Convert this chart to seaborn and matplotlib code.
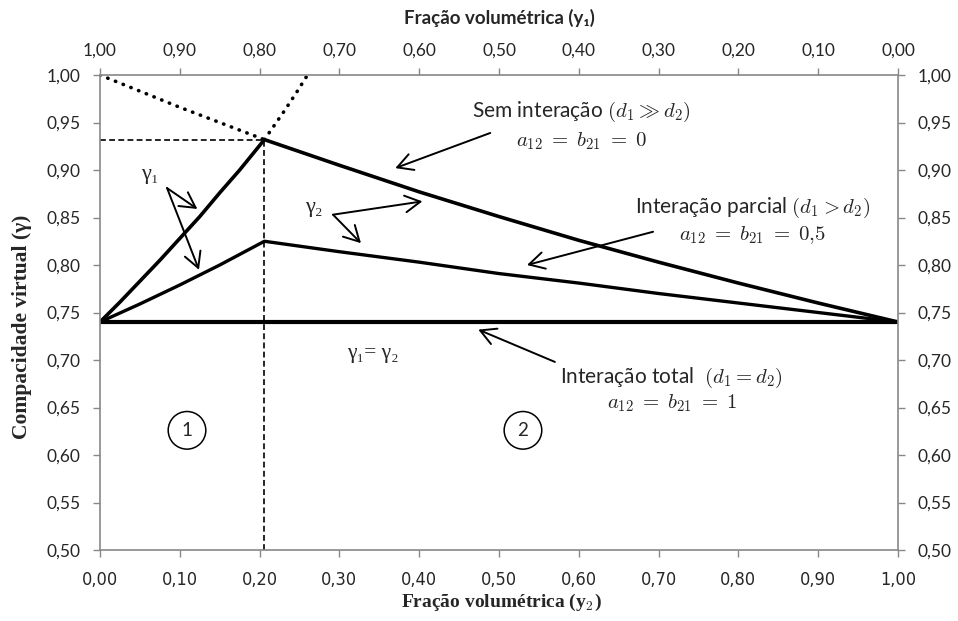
import matplotlib
matplotlib.use("Agg")
import matplotlib.pyplot as plt
import matplotlib.font_manager as fm
import seaborn as sns
import pandas as pd

# Fração volumétrica da classe fina (y2) e compacidade virtual (γ)
y2_sem = [0.00, 0.025, 0.05, 0.075, 0.10, 0.125, 0.15, 0.175, 0.206,
          0.30, 0.40, 0.50, 0.60, 0.70, 0.80, 0.90, 1.00]
gam_sem = [0.740, 0.761, 0.783, 0.805, 0.828, 0.851, 0.876, 0.900, 0.932,
           0.905, 0.877, 0.851, 0.826, 0.803, 0.781, 0.760, 0.740]

y2_parc = [0.00, 0.05, 0.10, 0.15, 0.206, 0.30, 0.40, 0.50, 0.60, 0.70, 0.80, 0.90, 1.00]
gam_parc = [0.740, 0.759, 0.779, 0.800, 0.825, 0.814, 0.803, 0.791, 0.781, 0.770, 0.760, 0.750, 0.740]

y2_total = [0.00, 1.00]
gam_total = [0.740, 0.740]

# prolongamentos (pontilhado) de γ2 e γ1 além do ponto de máximo
y2_ext_g2 = [0.00, 0.05, 0.10, 0.15, 0.206]
gam_ext_g2 = [1.000, 0.983, 0.966, 0.950, 0.932]
y2_ext_g1 = [0.206, 0.23, 0.245, 0.26]
gam_ext_g1 = [0.932, 0.961, 0.980, 1.000]

# ponto de máximo sem interação
y2_max = 0.206
gam_max = 0.932

ticks = [0.0, 0.1, 0.2, 0.3, 0.4, 0.5, 0.6, 0.7, 0.8, 0.9, 1.0]
yticks = [0.50, 0.55, 0.60, 0.65, 0.70, 0.75, 0.80, 0.85, 0.90, 0.95, 1.00]


def virgula(v):
    return f"{v:.2f}".replace(".", ",")


def _peso(w):
    if isinstance(w, str):
        return 700 if w in ("bold", "heavy", "black", "extra bold", "demibold") else 400
    return w


def fonte_estreita(negrito, serifada):
    """Procura uma fonte condensada instalada; devolve o caminho ou None."""
    for f in fm.fontManager.ttflist:
        nome = f.name
        cond = (str(f.stretch) in ("condensed", "semi-condensed", "extra-condensed")
                or "Narrow" in nome or "Condensed" in nome)
        if not cond or f.style != "normal" or "Mono" in nome:
            continue
        if (_peso(f.weight) >= 600) != negrito:
            continue
        if ("Serif" in nome) != serifada:
            continue
        return f.fname
    return None


sns.set_style("white")
plt.rcParams["font.family"] = ["Lato", "DejaVu Sans"]
plt.rcParams["mathtext.fontset"] = "cm"

GRAY = "#888888"
serif = ["Liberation Serif", "DejaVu Serif"]

arq_ticks = fonte_estreita(False, False)
if arq_ticks:
    fp_xticks = fm.FontProperties(fname=arq_ticks, size=13)
else:
    fp_xticks = fm.FontProperties(family=["Lato", "DejaVu Sans"], size=12.5)

fig = plt.figure(figsize=(9.58, 6.21), dpi=100)
ax = fig.add_axes([0.1044, 0.1143, 0.8330, 0.7649])

df_sem = pd.DataFrame({"y2": y2_sem, "gamma": gam_sem})
df_parc = pd.DataFrame({"y2": y2_parc, "gamma": gam_parc})
df_total = pd.DataFrame({"y2": y2_total, "gamma": gam_total})

sns.lineplot(data=df_sem, x="y2", y="gamma", ax=ax, color="black", lw=2.6,
             estimator=None)
sns.lineplot(data=df_parc, x="y2", y="gamma", ax=ax, color="black", lw=2.4,
             estimator=None)
sns.lineplot(data=df_total, x="y2", y="gamma", ax=ax, color="black", lw=3.0,
             estimator=None)
for xs, ys in [(y2_ext_g2, gam_ext_g2), (y2_ext_g1, gam_ext_g1)]:
    sns.lineplot(x=xs, y=ys, ax=ax, color="black", lw=2.6, estimator=None,
                 linestyle=(0, (0.1, 2.2)), dash_capstyle="round")

# linhas de referência do ponto de máximo
ax.plot([y2_max, y2_max], [0.50, gam_max], color="black", lw=1.2,
        linestyle=(0, (3.5, 2.0)))
ax.plot([0.0, y2_max], [gam_max, gam_max], color="black", lw=1.2,
        linestyle=(0, (3.5, 2.0)))

ax.set_xlim(0, 1)
ax.set_ylim(0.5, 1.0)
ax.set_xticks(ticks)
ax.set_xticklabels([virgula(t) for t in ticks], fontproperties=fp_xticks)
ax.set_yticks(yticks)
ax.set_yticklabels([virgula(t) for t in yticks], fontsize=12.5)
ax.tick_params(axis="x", direction="out", length=5, width=1, color=GRAY,
               pad=10, bottom=True)
ax.tick_params(axis="y", direction="out", length=5, width=1, color=GRAY,
               pad=9, left=True, right=True, labelright=True,
               labelsize=12.5)

for s in ax.spines.values():
    s.set_color(GRAY)
    s.set_linewidth(1.2)

ax.set_xlabel("Fração volumétrica (y$_\\mathbf{2}$)", fontsize=14,
              fontweight="bold", fontfamily=serif)
ax.xaxis.set_label_coords(0.503, -0.11)
ax.xaxis.label.set_va("center")
ax.set_ylabel("Compacidade virtual (γ)", fontsize=15.5, fontweight="bold",
              fontfamily=serif)
ax.yaxis.set_label_coords(-0.098, 0.47)
ax.yaxis.label.set_va("center")

# eixo superior: fração volumétrica da classe grossa (y1 = 1 - y2)
axt = ax.twiny()
axt.set_xlim(0, 1)
axt.set_xticks(ticks)
axt.set_xticklabels([virgula(1 - t) for t in ticks], fontsize=12.5)
axt.tick_params(axis="x", direction="out", length=5, width=1, color=GRAY,
                pad=7)
for s in axt.spines.values():
    s.set_visible(False)
axt.set_xlabel("Fração volumétrica (y₁)", fontsize=13.5, fontweight="bold")
axt.xaxis.set_label_coords(0.501, 1.12)
axt.xaxis.label.set_va("center")

# anotações
arrow = dict(arrowstyle="->,head_length=0.55,head_width=0.3", lw=1.4,
             color="black", shrinkA=0, shrinkB=0, mutation_scale=20)
FS_TXT = 15
FS_EQ = 15

ax.text(0.603, 0.961, "Sem interação $(d_1 \\gg d_2)$", fontsize=FS_TXT,
        ha="center", va="center")
ax.text(0.603, 0.930, "$a_{12}\\;=\\;b_{21}\\;=\\;0$", fontsize=FS_EQ,
        ha="center", va="center")
ax.annotate("", xy=(0.370, 0.902), xytext=(0.489, 0.939), arrowprops=arrow)

ax.text(0.818, 0.860, "Interação parcial $(d_1 > d_2)$", fontsize=FS_TXT,
        ha="center", va="center")
ax.text(0.818, 0.832, "$a_{12}\\;=\\;b_{21}\\;=\\;0{,}5$", fontsize=FS_EQ,
        ha="center", va="center")
ax.annotate("", xy=(0.535, 0.800), xytext=(0.693, 0.835), arrowprops=arrow)

ax.text(0.716, 0.681, "Interação total  $(d_1 = d_2)$", fontsize=FS_TXT,
        ha="center", va="center")
ax.text(0.717, 0.654, "$a_{12}\\;=\\;b_{21}\\;=\\;1$", fontsize=FS_EQ,
        ha="center", va="center")
ax.annotate("", xy=(0.474, 0.732), xytext=(0.570, 0.698), arrowprops=arrow)

ax.text(0.062, 0.895, "γ₁", fontsize=16, fontfamily=serif,
        ha="center", va="center")
ax.annotate("", xy=(0.122, 0.859), xytext=(0.084, 0.881), arrowprops=arrow)
ax.annotate("", xy=(0.124, 0.795), xytext=(0.084, 0.881), arrowprops=arrow)

ax.text(0.268, 0.861, "γ₂", fontsize=16, fontfamily=serif,
        ha="center", va="center")
ax.annotate("", xy=(0.404, 0.867), xytext=(0.292, 0.853), arrowprops=arrow)
ax.annotate("", xy=(0.327, 0.823), xytext=(0.292, 0.853), arrowprops=arrow)

ax.text(0.342, 0.707, "γ₁= γ₂", fontsize=15.5, fontfamily=serif,
        ha="center", va="center")

for xc, num in [(0.109, "1"), (0.530, "2")]:
    ax.text(xc, 0.626, num, fontsize=13.5, ha="center", va="center",
            bbox=dict(boxstyle="circle,pad=0.55", fc="white", ec="black",
                      lw=1.1))

fig.savefig("out.png", dpi=100)
